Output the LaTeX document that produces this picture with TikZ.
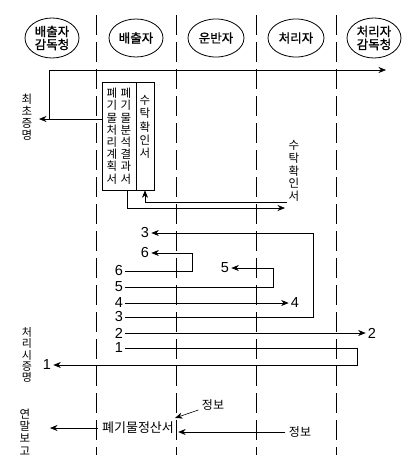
\documentclass[tikz,border=0pt]{standalone}
\usepackage{fontspec}
\setmainfont{Liberation Sans}
\newfontfamily\kr{Noto Sans CJK KR}
\newfontfamily\krb{Noto Sans CJK KR}[FakeBold=1.2]
\usetikzlibrary{shapes.geometric,arrows.meta}

\begin{document}
\begin{tikzpicture}[x=1pt,y=-1pt,semithick,>={Stealth[length=7.5pt,width=6pt]},
    actor/.style={draw,ellipse,thick,inner xsep=0pt,inner ysep=-1pt,align=center,font=\krb\fontsize{12.5}{13}\selectfont},
    life/.style={dash pattern=on 20pt off 7pt},
    vert/.style={align=center,inner sep=0pt,font=\kr\fontsize{11.5}{12.2}\selectfont},
    doc/.style={draw,inner sep=0pt},
    num/.style={font=\fontsize{14.5}{14.5}\selectfont,inner sep=2pt}]
    \useasboundingbox (0,0) rectangle (416,466);
    % Pelaku
    \node[actor,minimum width=54pt,minimum height=40pt] (bgam) at (52,38) {배출자\\감독청};
    \node[actor,minimum width=54pt,minimum height=38pt] (bae) at (136,38) {배출자};
    \node[actor,minimum width=56pt,minimum height=38pt] (unban) at (216,38) {운반자};
    \node[actor,minimum width=56pt,minimum height=38pt] (cheo) at (296,38) {처리자};
    \node[actor,minimum width=54pt,minimum height=40pt] (cgam) at (374,38) {처리자\\감독청};
    % Garis hidup
    \draw[life] (96,15) -- (96,455);
    \draw[life] (176,15) -- (176,455);
    \draw[life] (256,15) -- (256,455);
    \draw[life] (336,15) -- (336,455);
    % Dokumen
    \node[doc,minimum width=34pt,minimum height=108pt] (plans) at (119,136) {};
    \node[doc,minimum width=18pt,minimum height=108pt] (trust) at (145,136) {};
    \node[vert] (plan) at (112,136) {폐\\기\\물\\처\\리\\계\\획\\서};
    \node[vert] (anal) at (126,136) {폐\\기\\물\\분\\석\\결\\과\\서};
    \node[vert,font=\kr\fontsize{11.5}{13.4}\selectfont] (trustt) at (145,127) {수\\탁\\확\\인\\서};
    \node[vert] (firstc) at (27,117) {최\\초\\증\\명};
    \coordinate (firstt) at (39,119);
    \coordinate (jn) at (49,119);
    \coordinate (topend) at (386,70);
    \draw[->] (plans.west |- firstt) -- (firstt);
    \draw[->] (jn) |- (topend);
    % Tanda terima
    \node[vert,font=\kr\fontsize{11.5}{12.6}\selectfont] (trustr) at (294,171) {수\\탁\\확\\인\\서};
    \coordinate (ans) at (127,190);
    \coordinate (ant) at (285,208);
    \coordinate (trs) at (287,202);
    \draw[->] (ans) |- (ant);
    \draw[->] (trs) -| (trust.south);
    % Urutan
    \node[num] (l6) at (119,271) {6};
    \node[num] (l5) at (119,287) {5};
    \node[num] (l4) at (119,303) {4};
    \node[num] (l3) at (119,317) {3};
    \node[num] (l2) at (119,333) {2};
    \node[num] (l1) at (119,348) {1};
    \node[num] (r3) at (145,233) {3};
    \node[num] (r6) at (145,253) {6};
    \node[num] (r5) at (225,268) {5};
    \node[num] (r4) at (295,303) {4};
    \node[num] (r2) at (372,333) {2};
    \node[num] (r1) at (47,365) {1};
    \coordinate (k6) at (192,271);
    \coordinate (k5) at (273,287);
    \coordinate (k3) at (313,317);
    \coordinate (k1) at (357,348);
    \draw[->] (l6) -- (k6) |- (r6);
    \draw[->] (l5) -- (k5) |- (r5);
    \draw[->] (l4) -- (r4);
    \draw[->] (l3) -- (k3) |- (r3);
    \draw[->] (l2) -- (r2);
    \draw[->] (l1) -- (k1) |- (r1);
    \node[vert,font=\kr\fontsize{11}{11.2}\selectfont] (proc) at (27,355) {처\\리\\시\\증\\명};
    % Laporan akhir tahun
    \node[vert] (annual) at (25,432) {연\\말\\보\\고};
    \node[font=\kr\fontsize{13}{13}\selectfont,inner xsep=4pt] (settle) at (138,428) {폐기물정산서};
    \node[font=\kr\fontsize{12}{12}\selectfont] (info1) at (213,405) {정보};
    \node[font=\kr\fontsize{12}{12}\selectfont] (info2) at (300,432) {정보};
    \coordinate (yr) at (50,428);
    \coordinate (inft) at (175,418);
    \draw[->] (settle) -- (yr);
    \draw[->] (info1) -- (inft);
    \draw[->] (info2) -- (info2 -| settle.east);
\end{tikzpicture}
\end{document}
